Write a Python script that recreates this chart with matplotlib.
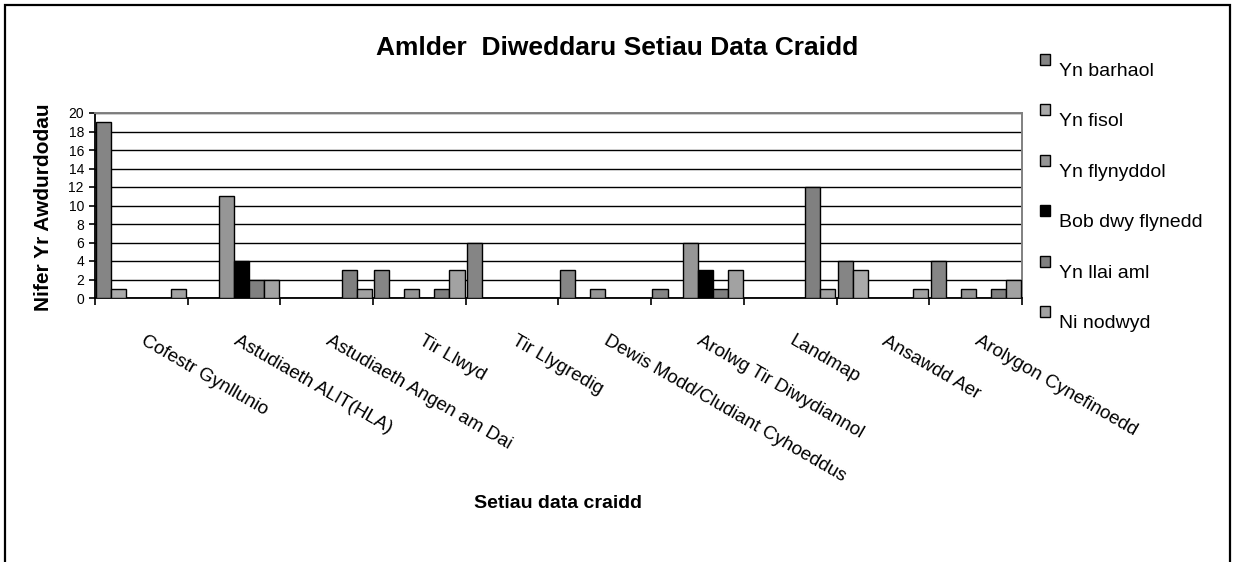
"""
Amlder Diweddaru Setiau Data Craidd - grouped bar chart (Excel style).
"""
import numpy as np
import matplotlib
matplotlib.use("Agg")
import matplotlib.pyplot as plt
from matplotlib.patches import Rectangle
from matplotlib.transforms import ScaledTranslation

categories = [
    "Cofestr Gynllunio",
    "Astudiaeth ALlT(HLA)",
    "Astudiaeth Angen am Dai",
    "Tir Llwyd",
    "Tir Llygredig",
    "Dewis Modd/Cludiant Cyhoeddus",
    "Arolwg Tir Diwydiannol",
    "Landmap",
    "Ansawdd Aer",
    "Arolygon Cynefinoedd",
]
series_names = [
    "Yn barhaol",
    "Yn fisol",
    "Yn flynyddol",
    "Bob dwy flynedd",
    "Yn llai aml",
    "Ni nodwyd",
]
yn_barhaol = [19, 0, 0, 3, 6, 3, 1, 0, 4, 4]
yn_fisol = [1, 0, 0, 0, 0, 0, 0, 0, 3, 0]
yn_flynyddol = [0, 11, 0, 1, 0, 1, 6, 0, 0, 1]
bob_dwy_flynedd = [0, 4, 0, 0, 0, 0, 3, 0, 0, 0]
yn_llai_aml = [0, 2, 3, 1, 0, 0, 1, 12, 0, 1]
ni_nodwyd = [1, 2, 1, 3, 0, 0, 3, 1, 1, 2]
y_ticks = list(range(0, 21, 2))

series = [yn_barhaol, yn_fisol, yn_flynyddol, bob_dwy_flynedd, yn_llai_aml, ni_nodwyd]
colours = ["#858585", "#aaaaaa", "#969696", "#000000", "#808080", "#a2a2a2"]

W, H = 1233, 562
plt.rcParams["font.family"] = ["Liberation Sans", "DejaVu Sans"]
fig = plt.figure(figsize=(W / 100, H / 100), dpi=100)


def fx(px):
    return px / W


def fy(py):
    return 1 - py / H


# outer chart border (bottom edge runs off the image, as in the original)
fig.patches.append(Rectangle((fx(5), fy(566)), fx(1230) - fx(5), fy(5) - fy(566),
                             transform=fig.transFigure, fill=False,
                             edgecolor="black", lw=1.6))

ax = fig.add_axes([fx(95), fy(298), fx(1022) - fx(95), fy(113) - fy(298)])

x = np.arange(len(categories))
w = 0.162
for j, vals in enumerate(series):
    ax.bar(x + 0.5 + (j - 2.5) * w, vals, width=w, color=colours[j],
           edgecolor="black", linewidth=1.0, zorder=3)

ax.set_xlim(0, len(categories))
ax.set_ylim(0, 20)
ax.set_yticks(y_ticks)
ax.tick_params(axis="y", direction="out", length=4, width=1.2, pad=4,
               labelsize=10)
ax.yaxis.grid(True, color="black", lw=1.0)
ax.set_axisbelow(True)

# category boundaries as major ticks, labels on minor ticks at centres
ax.set_xticks(np.arange(len(categories) + 1))
ax.set_xticklabels([])
ax.tick_params(axis="x", which="major", direction="out", length=5, width=1.2)
ax.set_xticks(x + 0.5, minor=True)
ax.set_xticklabels(categories, minor=True, rotation=-30, ha="left", va="top",
                   rotation_mode="anchor", fontsize=13.5)
ax.tick_params(axis="x", which="minor", length=0, pad=25)
shift = ScaledTranslation(5 / 100, 0, fig.dpi_scale_trans)
for lab in ax.get_xticklabels(minor=True):
    lab.set_transform(lab.get_transform() + shift)

for side in ("left", "bottom"):
    ax.spines[side].set_color("black")
    ax.spines[side].set_linewidth(1.3)
for side in ("top", "right"):
    ax.spines[side].set_color("#808080")
    ax.spines[side].set_linewidth(1.4)

fig.text(fx(617), fy(55), "Amlder  Diweddaru Setiau Data Craidd",
         ha="center", va="baseline", fontsize=19, fontweight="bold")
fig.text(fx(44), fy(207), "Nifer Yr Awdurdodau", rotation=90,
         ha="center", va="center", fontsize=15, fontweight="bold")
fig.text(fx(558), fy(508), "Setiau data craidd",
         ha="center", va="baseline", fontsize=14, fontweight="bold")

# legend
for k, name in enumerate(series_names):
    top = 54 + 50.4 * k
    fig.patches.append(Rectangle((fx(1040), fy(top + 11)), fx(10), fy(0) - fy(11),
                                 transform=fig.transFigure,
                                 facecolor=colours[k], edgecolor="black", lw=1.0))
    fig.text(fx(1059), fy(top + 22), name, ha="left", va="baseline",
             fontsize=14)

fig.savefig("out.png", dpi=100)
